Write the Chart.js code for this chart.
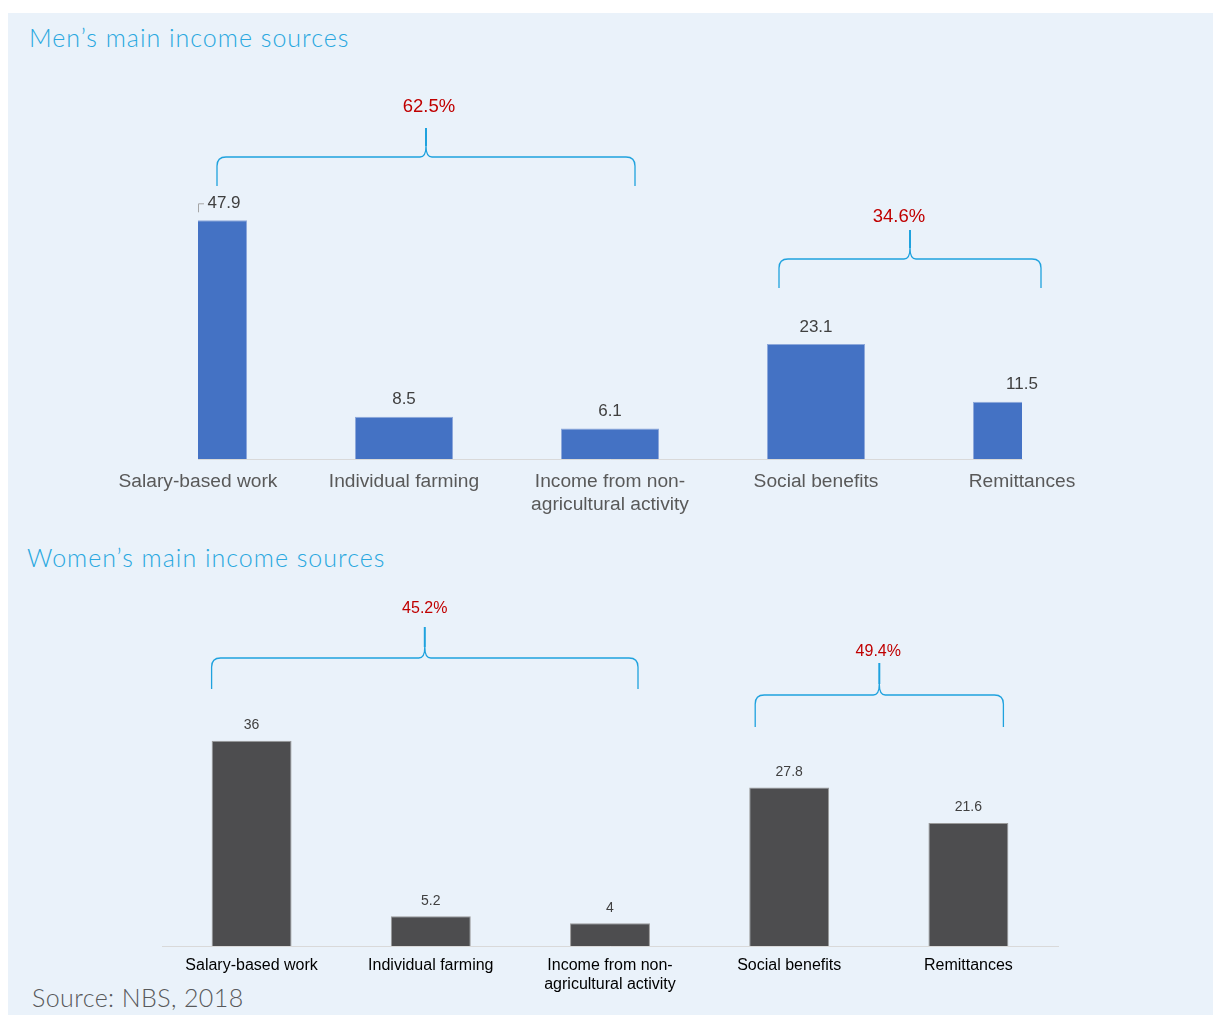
<!DOCTYPE html>
<html>
<head>
<meta charset="utf-8">
<script src="https://cdn.jsdelivr.net/npm/chart.js@4.4.1/dist/chart.umd.min.js"></script>
<style>
  body { margin: 0; background: #fff; width: 1213px; height: 1015px; position: relative; overflow: hidden; }
  .panel { position: absolute; left: 8px; top: 13px; width: 1205px; height: 1002px; background: #EAF2FA; }
  .title { position: absolute; font-family: Lato, "Open Sans", sans-serif; font-weight: 300; font-size: 25px; line-height: 25px; letter-spacing: 1px; white-space: nowrap; }
  .blue { color: #29A8E0; }
  .source { color: #58595B; letter-spacing: 0.4px; }
  canvas { position: absolute; left: 0; }
</style>
</head>
<body>
<div class="panel"></div>
<div class="title blue" style="left:29px; top:25px;">Men’s main income sources</div>
<div class="title blue" style="left:27px; top:545px;">Women’s main income sources</div>
<div class="title source" style="left:32px; top:985px;">Source: NBS, 2018</div>
<canvas id="menChart" width="1213" height="540" style="top:0;"></canvas>
<canvas id="womenChart" width="1213" height="475" style="top:540px;"></canvas>

<script>
// categories and shares (%)
const categories = ["Salary-based work", "Individual farming", ["Income from non-", "agricultural activity"], "Social benefits", "Remittances"];
const menShares = [47.9, 8.5, 6.1, 23.1, 11.5];
const womenShares = [36, 5.2, 4, 27.8, 21.6];

// groups under the braces: first and last category of each
const groupFirst = [0, 3];
const groupLast = [2, 4];
const menGroupTotals = [62.5, 34.6];
const womenGroupTotals = [45.2, 49.4];

const labelFont = '"Liberation Sans", Arial, Helvetica, sans-serif';

// numbers above the bars
const valueLabels = {
  id: 'valueLabels',
  afterDatasetsDraw(chart, args, opts) {
    const ctx = chart.ctx;
    const meta = chart.getDatasetMeta(0);
    const data = chart.data.datasets[0].data;
    ctx.save();
    ctx.font = opts.size + 'px ' + labelFont;
    ctx.fillStyle = opts.color;
    ctx.textAlign = 'center';
    ctx.textBaseline = 'middle';
    meta.data.forEach((bar, i) => {
      let x = bar.x;
      const y = bar.y - opts.gap;
      if (opts.leaderFirst && i === 0) {
        // first bar is cut by the plot edge, so its label sits to the right with a small leader
        ctx.strokeStyle = '#A6A6A6';
        ctx.lineWidth = 1;
        ctx.beginPath();
        ctx.moveTo(x + 0.5, bar.y - 8);
        ctx.lineTo(x + 0.5, y + 0.5);
        ctx.lineTo(x + 6, y + 0.5);
        ctx.stroke();
        x += opts.leaderFirst;
      }
      ctx.fillText(String(data[i]), x, y);
    });
    ctx.restore();
  }
};

// curly braces with the group totals
const braces = {
  id: 'braces',
  afterDraw(chart, args, opts) {
    const ctx = chart.ctx;
    const xs = chart.scales.x;
    ctx.save();
    opts.items.forEach((b, k) => {
      const left = xs.getPixelForValue(groupFirst[k]) + b.padL;
      const right = xs.getPixelForValue(groupLast[k]) + b.padR;
      const mid = (left + right) / 2;
      const y = b.y, d = b.drop, r = 9;
      ctx.strokeStyle = '#1FA2DE';
      ctx.lineWidth = 1.3;
      ctx.beginPath();
      ctx.moveTo(left, y + d);
      ctx.lineTo(left, y + r);
      ctx.quadraticCurveTo(left, y, left + r, y);
      ctx.lineTo(mid - 6, y);
      ctx.quadraticCurveTo(mid, y, mid, y - 11);
      ctx.quadraticCurveTo(mid, y, mid + 6, y);
      ctx.lineTo(right - r, y);
      ctx.quadraticCurveTo(right, y, right, y + r);
      ctx.lineTo(right, y + d);
      ctx.stroke();
      ctx.lineWidth = 2;
      ctx.beginPath();
      ctx.moveTo(mid, y - 11);
      ctx.lineTo(mid, y - d);
      ctx.stroke();

      ctx.font = opts.size + 'px ' + labelFont;
      ctx.fillStyle = '#C00000';
      ctx.textAlign = 'center';
      ctx.textBaseline = 'middle';
      ctx.fillText(opts.totals[k].toFixed(1) + '%', mid + b.dx, y + b.dy);
    });
    ctx.restore();
  }
};

function barChart(id, values, o) {
  return new Chart(document.getElementById(id), {
    type: 'bar',
    data: {
      labels: categories,
      datasets: [{
        data: values,
        backgroundColor: o.fill,
        borderColor: o.edge,
        borderWidth: 1,
        barPercentage: o.barPct,
        categoryPercentage: 1,
        clip: { left: 0, right: 0, top: false, bottom: 0 }
      }]
    },
    options: {
      responsive: false,
      animation: false,
      events: [],
      layout: { padding: o.padding },
      plugins: {
        legend: { display: false },
        tooltip: { enabled: false },
        valueLabels: o.values,
        braces: o.braces
      },
      scales: {
        x: {
          offset: o.offset,
          grid: { display: false, drawTicks: false },
          border: { color: '#D9D9D9', width: 1 },
          ticks: {
            font: { family: labelFont, size: o.tickSize },
            color: o.tickColor,
            padding: o.tickPad,
            maxRotation: 0,
            autoSkip: false
          },
          afterFit: s => { s.height = o.axisHeight; }
        },
        y: { display: false, min: 0, max: o.yMax }
      }
    },
    plugins: [valueLabels, braces]
  });
}

barChart('menChart', menShares, {
  fill: '#4472C4', edge: '#8EA9DB', barPct: 0.476, offset: false,
  padding: { left: 198, right: 191, top: 160, bottom: 1 },
  tickSize: 19.2, tickColor: '#595959', tickPad: 11, axisHeight: 80, yMax: 60,
  values: { size: 17, color: '#404040', gap: 17, leaderFirst: 26 },
  braces: {
    size: 18.5, totals: menGroupTotals,
    items: [
      { y: 157, drop: 29, padL: 19, padR: 25, dx: 3, dy: -50 },
      { y: 259, drop: 29, padL: -37, padR: 19, dx: -11, dy: -42 }
    ]
  }
});

barChart('womenChart', womenShares, {
  fill: '#4D4D4F', edge: '#9A9A9A', barPct: 0.446, offset: true,
  padding: { left: 162, right: 155, top: 121, bottom: 9 },
  tickSize: 16, tickColor: '#000000', tickPad: 10, axisHeight: 60, yMax: 50,
  values: { size: 14, color: '#404040', gap: 15.5, leaderFirst: 0 },
  braces: {
    size: 16, totals: womenGroupTotals,
    items: [
      { y: 118, drop: 31, padL: -40, padR: 28, dx: 0, dy: -49 },
      { y: 155, drop: 32, padL: -34, padR: 35, dx: -1, dy: -43 }
    ]
  }
});
</script>
</body>
</html>
